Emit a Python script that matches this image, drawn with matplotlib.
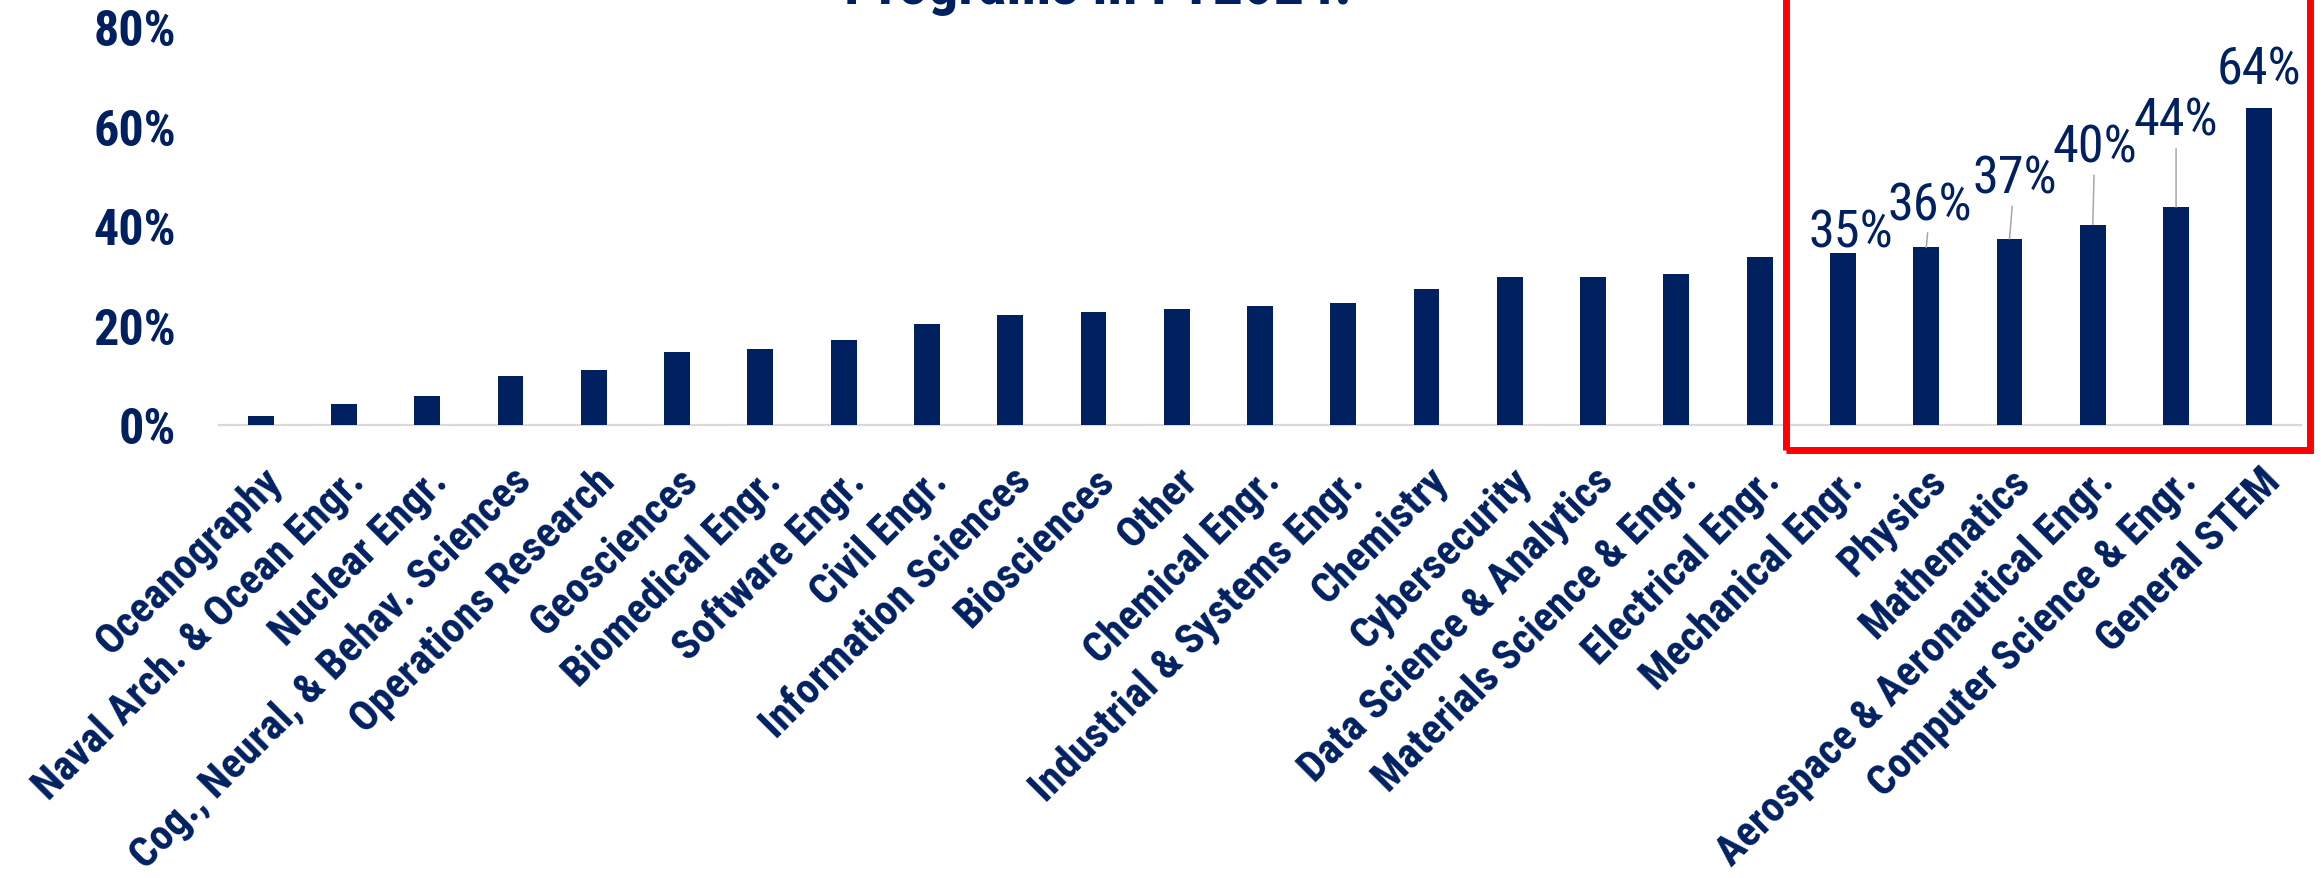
import os
import matplotlib
matplotlib.use("Agg")
import matplotlib.pyplot as plt
from matplotlib import font_manager as fm
from matplotlib.font_manager import FontProperties
from matplotlib.textpath import TextPath
from matplotlib.patches import Rectangle

# ---------------- data ----------------
categories = [
    "Oceanography", "Naval Arch. & Ocean Engr.", "Nuclear Engr.",
    "Cog., Neural, & Behav. Sciences", "Operations Research", "Geosciences",
    "Biomedical Engr.", "Software Engr.", "Civil Engr.", "Information Sciences",
    "Biosciences", "Other", "Chemical Engr.", "Industrial & Systems Engr.",
    "Chemistry", "Cybersecurity", "Data Science & Analytics",
    "Materials Science & Engr.", "Electrical Engr.", "Mechanical Engr.",
    "Physics", "Mathematics", "Aerospace & Aeronautical Engr.",
    "Computer Science & Engr.", "General STEM",
]
values = [1.75, 4.2, 5.9, 9.9, 11.1, 14.6, 15.2, 17.0, 20.4, 22.2,
          22.8, 23.4, 24.0, 24.5, 27.4, 29.8, 29.8, 30.4, 33.8, 34.6,
          35.7, 37.4, 40.3, 43.8, 63.7]
y_ticks = [0, 20, 40, 60, 80]
labeled = [19, 20, 21, 22, 23, 24]          # bars that carry a data label
title_text = "Programs in FY2024."

# ---------------- fonts: prefer a narrow / condensed sans ----------------
def _weight(f):
    w = f.weight
    if isinstance(w, str):
        w = fm.weight_dict.get(w, 400)
    return w


def _rank(f):
    fam = f.name.lower()
    fn = os.path.basename(f.fname).lower()
    st = str(f.stretch).lower()
    if "mono" in fam or "serif" in fam or "[" in fn:
        return None
    if any(k in fn for k in ("extracond", "ultracond", "extra-cond", "ultra-cond")):
        return None
    narrow = "narrow" in fam or "narrow" in fn
    cond = ("condensed" in fam or "condensed" in fn or
            st in ("condensed", "semi-condensed", "75", "87.5"))
    if narrow and ("liberation" in fam or "arial" in fam or "nimbus" in fam):
        return 0
    if cond and "noto sans" in fam and "semi" not in fn:
        return 1
    if cond and "roboto" in fam:
        return 2
    if cond and "open sans" in fam:
        return 3
    if cond and "dejavu sans" in fam:
        return 4
    if narrow or cond:
        return 5
    if fam == "liberation sans":
        return 8
    return None


def pick(weight):
    best = None
    for f in fm.fontManager.ttflist:
        if f.style != "normal" or _weight(f) != weight:
            continue
        r = _rank(f)
        if r is None:
            continue
        if best is None or r < best[0]:
            best = (r, f.fname)
    return best[1] if best else None


bold_path = pick(700)
reg_path = pick(400) or bold_path


def prop_for(path, bold):
    if path:
        return FontProperties(fname=path)
    return FontProperties(family=["Liberation Sans", "DejaVu Sans"],
                          weight="bold" if bold else "normal")


def fitted(path, bold, sample, target_px):
    p = prop_for(path, bold)
    p.set_size(100)
    w = TextPath((0, 0), sample, prop=p).get_extents().width * 100 / 72.0
    p = p.copy()
    p.set_size(100 * target_px / w)
    return p


ytick_prop = fitted(bold_path, True, "80%", 78)
xtick_prop = fitted(bold_path, True, "Cog., Neural, & Behav. Sciences", 545)
label_prop = fitted(reg_path, False, "64%", 79)
title_prop = fitted(bold_path, True, title_text, 500)

# ---------------- figure ----------------
NAVY = "#002060"
W, H = 2321, 879
fig = plt.figure(figsize=(W / 100, H / 100), dpi=100)
ax = fig.add_axes([219 / W, 1 - 426 / H, (2301 - 219) / W, (426 - 28) / H])

x = list(range(len(categories)))
ax.bar(x, values, width=0.31, color=NAVY, zorder=3)
ax.set_xlim(-0.5, len(categories) - 0.5)
ax.set_ylim(0, 80)

for s in ["top", "right", "left"]:
    ax.spines[s].set_visible(False)
ax.spines["bottom"].set_color("#D9D9D9")
ax.spines["bottom"].set_linewidth(1.6)

ax.set_yticks(y_ticks)
ax.set_yticklabels([f"{t}%" for t in y_ticks], fontproperties=ytick_prop,
                   color=NAVY)
ax.tick_params(axis="y", length=0, pad=31)

ax.set_xticks(x)
ax.set_xticklabels(categories, rotation=45, ha="right", va="top",
                   rotation_mode="anchor", fontproperties=xtick_prop,
                   color=NAVY)
ax.tick_params(axis="x", length=0, pad=25)

# data labels (offsets in points: dx, dy of label centre above bar top)
label_offsets = [(5.8, 14.5), (2.9, 30.5), (3.6, 43.5), (1.4, 55.5), (0, 62), (0, 28)]
leader = [False, True, True, True, True, False]
for i, (dx, dy), ld in zip(labeled, label_offsets, leader):
    v = values[i]
    kw = {}
    if ld:
        kw["arrowprops"] = dict(arrowstyle="-", color="#A6A6A6", lw=1.1,
                                shrinkA=0, shrinkB=0)
    ax.annotate(f"{v:.0f}%", xy=(i, v), xytext=(dx, dy),
                textcoords="offset points", ha="center", va="center",
                fontproperties=label_prop, color=NAVY, zorder=5,
                annotation_clip=False, **kw)

# title (only its lower part is inside the picture)
fig.text(1098 / W, 1 - 4 / H, title_text, ha="center", va="baseline",
         fontproperties=title_prop, color=NAVY)

# red highlight box
fig.patches.append(Rectangle((1785.5 / W, 1 - 451 / H), (2310 - 1785.5) / W,
                             451 / H + 0.05, transform=fig.transFigure,
                             fill=False, edgecolor="#FF0000", lw=5.0,
                             clip_on=False, zorder=10))

fig.savefig("out.png", dpi=100)
